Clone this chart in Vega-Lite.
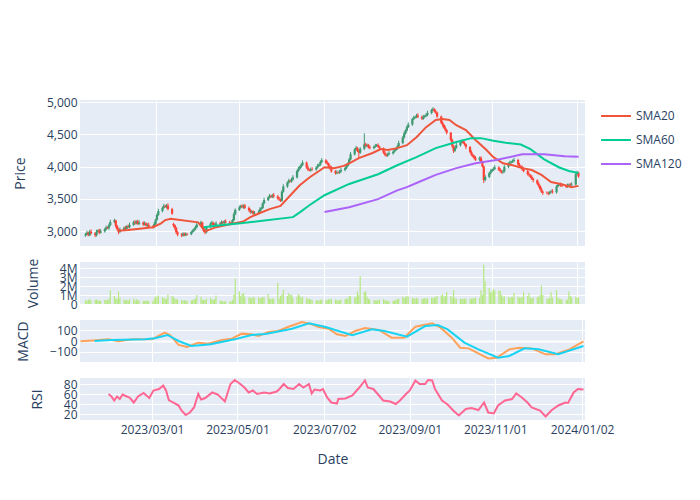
{
"$schema": "https://vega.github.io/schema/vega-lite/v6.json",
"padding": {"left": 13, "top": 96, "right": 5, "bottom": 5},
"spacing": 16,
"bounds": "flush",
"config": {
  "view": {"fill": "#E5ECF6", "stroke": null},
  "font": "Open Sans",
  "axis": {"gridColor": "#ffffff", "gridWidth": 1, "domain": false, "ticks": false, "labelColor": "#2a3f5f", "labelFontSize": 12, "labelFont": "Open Sans", "labelPadding": 3, "titleFont": "Open Sans", "titleFontSize": 14, "titleFontWeight": "normal", "titleColor": "#2a3f5f", "titlePadding": 19, "labelOverlap": false, "labelFlush": false},
  "legend": {"orient": "none", "legendX": 520, "legendY": 0, "symbolType": "stroke", "symbolStrokeWidth": 2, "symbolSize": 900, "labelFont": "Open Sans", "labelFontSize": 12, "labelColor": "#2a3f5f", "padding": 0}
},
"datasets": {
"ohlc": [
{"d":"2023-01-09","o":2930,"h":2970,"l":2910,"c":2950,"v":0.42},
{"d":"2023-01-10","o":2950,"h":3005,"l":2935,"c":2975,"v":0.38},
{"d":"2023-01-11","o":2975,"h":2990,"l":2920,"c":2935,"v":0.45},
{"d":"2023-01-12","o":2935,"h":3015,"l":2920,"c":2990,"v":0.55},
{"d":"2023-01-13","o":2990,"h":3025,"l":2945,"c":2965,"v":0.4},
{"d":"2023-01-16","o":2965,"h":2985,"l":2905,"c":2935,"v":0.47},
{"d":"2023-01-17","o":2935,"h":3020,"l":2915,"c":2990,"v":0.5},
{"d":"2023-01-18","o":2990,"h":3025,"l":2975,"c":3010,"v":0.43},
{"d":"2023-01-19","o":3010,"h":3035,"l":2950,"c":2975,"v":0.36},
{"d":"2023-01-20","o":2975,"h":3030,"l":2960,"c":2995,"v":0.39},
{"d":"2023-01-23","o":2995,"h":3050,"l":2975,"c":3030,"v":0.44},
{"d":"2023-01-24","o":3030,"h":3085,"l":3010,"c":3055,"v":0.48},
{"d":"2023-01-25","o":3055,"h":3070,"l":3030,"c":3045,"v":0.41},
{"d":"2023-01-26","o":3045,"h":3115,"l":3020,"c":3090,"v":0.6},
{"d":"2023-01-27","o":3090,"h":3175,"l":3075,"c":3140,"v":1.54},
{"d":"2023-01-30","o":3140,"h":3190,"l":3120,"c":3165,"v":0.9},
{"d":"2023-01-31","o":3165,"h":3175,"l":3050,"c":3080,"v":0.62},
{"d":"2023-02-01","o":3080,"h":3095,"l":3005,"c":3030,"v":0.55},
{"d":"2023-02-02","o":3030,"h":3045,"l":2950,"c":2985,"v":1.39},
{"d":"2023-02-03","o":2985,"h":3055,"l":2970,"c":3020,"v":0.7},
{"d":"2023-02-06","o":3020,"h":3070,"l":3000,"c":3050,"v":0.5},
{"d":"2023-02-07","o":3050,"h":3080,"l":3015,"c":3035,"v":0.42},
{"d":"2023-02-08","o":3035,"h":3090,"l":3020,"c":3075,"v":0.45},
{"d":"2023-02-09","o":3075,"h":3100,"l":3045,"c":3060,"v":0.35},
{"d":"2023-02-10","o":3060,"h":3130,"l":3040,"c":3095,"v":0.55},
{"d":"2023-02-13","o":3095,"h":3160,"l":3080,"c":3140,"v":0.62},
{"d":"2023-02-14","o":3140,"h":3170,"l":3100,"c":3120,"v":0.4},
{"d":"2023-02-15","o":3120,"h":3165,"l":3105,"c":3150,"v":0.52},
{"d":"2023-02-16","o":3150,"h":3175,"l":3095,"c":3110,"v":0.45},
{"d":"2023-02-17","o":3110,"h":3165,"l":3090,"c":3130,"v":0.38},
{"d":"2023-02-20","o":3130,"h":3150,"l":3080,"c":3100,"v":0.36},
{"d":"2023-02-21","o":3100,"h":3150,"l":3085,"c":3120,"v":0.33},
{"d":"2023-02-22","o":3120,"h":3135,"l":3070,"c":3085,"v":0.4},
{"d":"2023-02-23","o":3085,"h":3120,"l":3060,"c":3095,"v":0.35},
{"d":"2023-02-24","o":3095,"h":3130,"l":3050,"c":3070,"v":0.3},
{"d":"2023-02-27","o":3070,"h":3090,"l":3040,"c":3060,"v":0.32},
{"d":"2023-02-28","o":3060,"h":3140,"l":3045,"c":3110,"v":0.58},
{"d":"2023-03-01","o":3110,"h":3190,"l":3095,"c":3175,"v":0.85},
{"d":"2023-03-02","o":3175,"h":3275,"l":3160,"c":3250,"v":0.8},
{"d":"2023-03-03","o":3250,"h":3345,"l":3235,"c":3310,"v":0.95},
{"d":"2023-03-06","o":3310,"h":3380,"l":3290,"c":3360,"v":0.75},
{"d":"2023-03-07","o":3360,"h":3420,"l":3345,"c":3390,"v":0.7},
{"d":"2023-03-08","o":3390,"h":3405,"l":3360,"c":3375,"v":0.55},
{"d":"2023-03-09","o":3375,"h":3420,"l":3350,"c":3395,"v":0.6},
{"d":"2023-03-10","o":3395,"h":3430,"l":3320,"c":3340,"v":1.05},
{"d":"2023-03-13","o":3340,"h":3360,"l":3250,"c":3270,"v":0.9},
{"d":"2023-03-14","o":3110,"h":3130,"l":3060,"c":3090,"v":0.8},
{"d":"2023-03-15","o":3090,"h":3105,"l":3020,"c":3050,"v":0.6},
{"d":"2023-03-16","o":3050,"h":3065,"l":2955,"c":2980,"v":0.55},
{"d":"2023-03-17","o":2980,"h":3000,"l":2920,"c":2945,"v":0.5},
{"d":"2023-03-20","o":2945,"h":2970,"l":2905,"c":2930,"v":0.45},
{"d":"2023-03-21","o":2930,"h":2980,"l":2915,"c":2960,"v":0.38},
{"d":"2023-03-22","o":2960,"h":2975,"l":2920,"c":2935,"v":0.42},
{"d":"2023-03-23","o":2935,"h":2980,"l":2920,"c":2955,"v":0.4},
{"d":"2023-03-24","o":2955,"h":2970,"l":2930,"c":2950,"v":0.35},
{"d":"2023-03-27","o":2950,"h":3005,"l":2935,"c":2985,"v":0.43},
{"d":"2023-03-28","o":2985,"h":3025,"l":2970,"c":3005,"v":0.45},
{"d":"2023-03-29","o":3005,"h":3050,"l":2990,"c":3030,"v":0.5},
{"d":"2023-03-30","o":3030,"h":3085,"l":3015,"c":3060,"v":0.62},
{"d":"2023-03-31","o":3060,"h":3135,"l":3045,"c":3100,"v":1.0},
{"d":"2023-04-03","o":3100,"h":3160,"l":3085,"c":3135,"v":0.8},
{"d":"2023-04-04","o":3135,"h":3145,"l":3040,"c":3060,"v":0.5},
{"d":"2023-04-05","o":3060,"h":3075,"l":2980,"c":3000,"v":0.45},
{"d":"2023-04-06","o":3000,"h":3020,"l":2950,"c":2980,"v":0.48},
{"d":"2023-04-07","o":2980,"h":3080,"l":2965,"c":3065,"v":0.6},
{"d":"2023-04-10","o":3065,"h":3135,"l":3050,"c":3115,"v":0.7},
{"d":"2023-04-11","o":3115,"h":3160,"l":3100,"c":3130,"v":0.5},
{"d":"2023-04-12","o":3130,"h":3145,"l":3070,"c":3085,"v":0.45},
{"d":"2023-04-13","o":3085,"h":3120,"l":3065,"c":3095,"v":0.55},
{"d":"2023-04-14","o":3095,"h":3150,"l":3080,"c":3120,"v":0.95},
{"d":"2023-04-17","o":3120,"h":3140,"l":3090,"c":3110,"v":0.4},
{"d":"2023-04-18","o":3110,"h":3165,"l":3095,"c":3140,"v":0.35},
{"d":"2023-04-19","o":3140,"h":3155,"l":3110,"c":3125,"v":0.3},
{"d":"2023-04-20","o":3125,"h":3170,"l":3105,"c":3150,"v":0.32},
{"d":"2023-04-21","o":3150,"h":3180,"l":3115,"c":3135,"v":0.3},
{"d":"2023-04-24","o":3135,"h":3160,"l":3105,"c":3125,"v":0.32},
{"d":"2023-04-25","o":3125,"h":3145,"l":3090,"c":3115,"v":0.3},
{"d":"2023-04-26","o":3115,"h":3185,"l":3100,"c":3170,"v":0.45},
{"d":"2023-04-27","o":3170,"h":3290,"l":3155,"c":3260,"v":1.0},
{"d":"2023-04-28","o":3260,"h":3350,"l":3245,"c":3330,"v":2.85},
{"d":"2023-05-01","o":3330,"h":3395,"l":3310,"c":3365,"v":1.42},
{"d":"2023-05-02","o":3365,"h":3405,"l":3350,"c":3390,"v":0.9},
{"d":"2023-05-03","o":3390,"h":3415,"l":3355,"c":3370,"v":1.12},
{"d":"2023-05-04","o":3370,"h":3410,"l":3345,"c":3395,"v":1.24},
{"d":"2023-05-05","o":3395,"h":3420,"l":3340,"c":3360,"v":0.8},
{"d":"2023-05-08","o":3360,"h":3380,"l":3300,"c":3320,"v":0.75},
{"d":"2023-05-09","o":3320,"h":3345,"l":3270,"c":3290,"v":0.7},
{"d":"2023-05-10","o":3290,"h":3325,"l":3275,"c":3305,"v":0.65},
{"d":"2023-05-11","o":3305,"h":3320,"l":3250,"c":3270,"v":0.8},
{"d":"2023-05-12","o":3270,"h":3310,"l":3255,"c":3285,"v":0.7},
{"d":"2023-05-15","o":3285,"h":3320,"l":3265,"c":3300,"v":0.72},
{"d":"2023-05-16","o":3300,"h":3370,"l":3285,"c":3340,"v":0.68},
{"d":"2023-05-17","o":3340,"h":3375,"l":3320,"c":3355,"v":0.7},
{"d":"2023-05-18","o":3355,"h":3445,"l":3340,"c":3430,"v":0.75},
{"d":"2023-05-19","o":3430,"h":3515,"l":3415,"c":3480,"v":0.78},
{"d":"2023-05-22","o":3480,"h":3540,"l":3465,"c":3520,"v":1.16},
{"d":"2023-05-23","o":3520,"h":3575,"l":3505,"c":3545,"v":0.6},
{"d":"2023-05-24","o":3545,"h":3560,"l":3510,"c":3530,"v":0.55},
{"d":"2023-05-25","o":3530,"h":3575,"l":3510,"c":3555,"v":0.62},
{"d":"2023-05-26","o":3555,"h":3590,"l":3515,"c":3535,"v":0.58},
{"d":"2023-05-29","o":3535,"h":3560,"l":3485,"c":3505,"v":2.36},
{"d":"2023-05-30","o":3505,"h":3530,"l":3465,"c":3490,"v":0.6},
{"d":"2023-05-31","o":3490,"h":3505,"l":3450,"c":3470,"v":0.9},
{"d":"2023-06-01","o":3470,"h":3635,"l":3455,"c":3610,"v":1.05},
{"d":"2023-06-02","o":3610,"h":3725,"l":3595,"c":3690,"v":1.6},
{"d":"2023-06-05","o":3690,"h":3770,"l":3670,"c":3750,"v":0.9},
{"d":"2023-06-06","o":3750,"h":3810,"l":3735,"c":3780,"v":1.24},
{"d":"2023-06-07","o":3780,"h":3795,"l":3755,"c":3770,"v":1.0},
{"d":"2023-06-08","o":3770,"h":3825,"l":3750,"c":3800,"v":1.05},
{"d":"2023-06-09","o":3800,"h":3865,"l":3780,"c":3830,"v":0.7},
{"d":"2023-06-12","o":3830,"h":3950,"l":3815,"c":3930,"v":0.8},
{"d":"2023-06-13","o":3930,"h":3995,"l":3915,"c":3965,"v":1.1},
{"d":"2023-06-14","o":3965,"h":4010,"l":3950,"c":3995,"v":0.95},
{"d":"2023-06-15","o":3995,"h":4050,"l":3975,"c":4025,"v":0.7},
{"d":"2023-06-16","o":4025,"h":4095,"l":4010,"c":4060,"v":0.8},
{"d":"2023-06-19","o":4060,"h":4080,"l":3965,"c":3985,"v":0.65},
{"d":"2023-06-20","o":3985,"h":4015,"l":3930,"c":3950,"v":0.6},
{"d":"2023-06-21","o":3950,"h":3965,"l":3925,"c":3940,"v":0.55},
{"d":"2023-06-22","o":3940,"h":3985,"l":3920,"c":3960,"v":0.5},
{"d":"2023-06-23","o":3960,"h":3990,"l":3935,"c":3955,"v":0.45},
{"d":"2023-06-26","o":3955,"h":4005,"l":3935,"c":3985,"v":0.42},
{"d":"2023-06-27","o":3985,"h":4040,"l":3970,"c":4010,"v":0.4},
{"d":"2023-06-28","o":4010,"h":4045,"l":3995,"c":4030,"v":0.38},
{"d":"2023-06-29","o":4030,"h":4095,"l":4010,"c":4070,"v":0.45},
{"d":"2023-06-30","o":4070,"h":4130,"l":4055,"c":4095,"v":0.5},
{"d":"2023-07-03","o":4095,"h":4115,"l":4040,"c":4060,"v":0.48},
{"d":"2023-07-04","o":4060,"h":4090,"l":4025,"c":4045,"v":0.42},
{"d":"2023-07-05","o":4045,"h":4060,"l":3985,"c":4000,"v":0.55},
{"d":"2023-07-06","o":4000,"h":4025,"l":3950,"c":3975,"v":0.5},
{"d":"2023-07-07","o":3975,"h":4010,"l":3905,"c":3925,"v":0.6},
{"d":"2023-07-10","o":3925,"h":3945,"l":3875,"c":3895,"v":0.5},
{"d":"2023-07-11","o":3895,"h":3940,"l":3880,"c":3910,"v":0.45},
{"d":"2023-07-12","o":3910,"h":3925,"l":3890,"c":3905,"v":0.4},
{"d":"2023-07-13","o":3905,"h":3950,"l":3885,"c":3925,"v":0.42},
{"d":"2023-07-14","o":3925,"h":3980,"l":3905,"c":3945,"v":0.5},
{"d":"2023-07-17","o":3945,"h":3995,"l":3925,"c":3975,"v":0.55},
{"d":"2023-07-18","o":3975,"h":4040,"l":3960,"c":4010,"v":0.6},
{"d":"2023-07-19","o":4010,"h":4065,"l":3995,"c":4050,"v":0.58},
{"d":"2023-07-20","o":4050,"h":4135,"l":4030,"c":4110,"v":0.9},
{"d":"2023-07-21","o":4110,"h":4225,"l":4095,"c":4190,"v":0.85},
{"d":"2023-07-24","o":4190,"h":4285,"l":4170,"c":4265,"v":0.75},
{"d":"2023-07-25","o":4265,"h":4320,"l":4250,"c":4290,"v":0.8},
{"d":"2023-07-26","o":4290,"h":4305,"l":4225,"c":4240,"v":1.42},
{"d":"2023-07-27","o":4240,"h":4265,"l":4120,"c":4215,"v":1.0},
{"d":"2023-07-28","o":4215,"h":4300,"l":4195,"c":4275,"v":3.1},
{"d":"2023-07-31","o":4275,"h":4515,"l":4255,"c":4345,"v":1.35},
{"d":"2023-08-01","o":4345,"h":4370,"l":4300,"c":4320,"v":1.42},
{"d":"2023-08-02","o":4320,"h":4355,"l":4295,"c":4335,"v":0.8},
{"d":"2023-08-03","o":4335,"h":4350,"l":4280,"c":4300,"v":0.6},
{"d":"2023-08-04","o":4300,"h":4330,"l":4265,"c":4285,"v":0.5},
{"d":"2023-08-07","o":4285,"h":4325,"l":4265,"c":4305,"v":0.45},
{"d":"2023-08-08","o":4305,"h":4350,"l":4290,"c":4320,"v":0.42},
{"d":"2023-08-09","o":4320,"h":4350,"l":4305,"c":4335,"v":0.4},
{"d":"2023-08-10","o":4335,"h":4360,"l":4290,"c":4310,"v":0.45},
{"d":"2023-08-11","o":4310,"h":4320,"l":4250,"c":4285,"v":0.5},
{"d":"2023-08-14","o":4285,"h":4295,"l":4195,"c":4215,"v":0.55},
{"d":"2023-08-15","o":4215,"h":4240,"l":4160,"c":4185,"v":0.42},
{"d":"2023-08-16","o":4185,"h":4200,"l":4150,"c":4170,"v":0.38},
{"d":"2023-08-17","o":4170,"h":4215,"l":4150,"c":4190,"v":0.35},
{"d":"2023-08-18","o":4190,"h":4240,"l":4175,"c":4205,"v":0.3},
{"d":"2023-08-21","o":4205,"h":4250,"l":4185,"c":4230,"v":0.35},
{"d":"2023-08-22","o":4230,"h":4285,"l":4215,"c":4255,"v":0.4},
{"d":"2023-08-23","o":4255,"h":4290,"l":4240,"c":4275,"v":0.45},
{"d":"2023-08-24","o":4275,"h":4335,"l":4255,"c":4310,"v":0.6},
{"d":"2023-08-25","o":4310,"h":4400,"l":4295,"c":4365,"v":0.55},
{"d":"2023-08-28","o":4365,"h":4470,"l":4345,"c":4450,"v":0.8},
{"d":"2023-08-29","o":4450,"h":4540,"l":4435,"c":4510,"v":0.7},
{"d":"2023-08-30","o":4510,"h":4575,"l":4495,"c":4560,"v":0.75},
{"d":"2023-08-31","o":4560,"h":4635,"l":4540,"c":4610,"v":0.9},
{"d":"2023-09-01","o":4610,"h":4685,"l":4595,"c":4650,"v":0.85},
{"d":"2023-09-04","o":4650,"h":4755,"l":4630,"c":4735,"v":0.7},
{"d":"2023-09-05","o":4735,"h":4785,"l":4720,"c":4755,"v":0.65},
{"d":"2023-09-06","o":4755,"h":4785,"l":4740,"c":4770,"v":0.6},
{"d":"2023-09-07","o":4770,"h":4815,"l":4750,"c":4790,"v":0.7},
{"d":"2023-09-08","o":4790,"h":4825,"l":4750,"c":4770,"v":0.62},
{"d":"2023-09-11","o":4770,"h":4790,"l":4720,"c":4740,"v":0.6},
{"d":"2023-09-12","o":4740,"h":4800,"l":4725,"c":4770,"v":0.62},
{"d":"2023-09-13","o":4770,"h":4800,"l":4755,"c":4785,"v":0.66},
{"d":"2023-09-14","o":4785,"h":4825,"l":4765,"c":4800,"v":0.6},
{"d":"2023-09-15","o":4800,"h":4865,"l":4780,"c":4830,"v":0.65},
{"d":"2023-09-18","o":4830,"h":4895,"l":4810,"c":4875,"v":0.7},
{"d":"2023-09-19","o":4875,"h":4920,"l":4860,"c":4890,"v":0.68},
{"d":"2023-09-20","o":4890,"h":4905,"l":4840,"c":4855,"v":0.72},
{"d":"2023-09-21","o":4855,"h":4880,"l":4815,"c":4835,"v":0.75},
{"d":"2023-09-22","o":4835,"h":4850,"l":4755,"c":4775,"v":0.9},
{"d":"2023-09-25","o":4775,"h":4790,"l":4660,"c":4680,"v":0.95},
{"d":"2023-09-26","o":4680,"h":4700,"l":4620,"c":4645,"v":1.05},
{"d":"2023-09-27","o":4645,"h":4660,"l":4585,"c":4600,"v":0.8},
{"d":"2023-09-28","o":4600,"h":4625,"l":4545,"c":4565,"v":0.9},
{"d":"2023-09-29","o":4565,"h":4580,"l":4495,"c":4525,"v":1.35},
{"d":"2023-10-02","o":4525,"h":4535,"l":4390,"c":4410,"v":0.9},
{"d":"2023-10-03","o":4410,"h":4430,"l":4290,"c":4320,"v":0.7},
{"d":"2023-10-04","o":4320,"h":4335,"l":4210,"c":4245,"v":1.54},
{"d":"2023-10-05","o":4245,"h":4310,"l":4225,"c":4290,"v":0.65},
{"d":"2023-10-06","o":4290,"h":4365,"l":4275,"c":4330,"v":0.6},
{"d":"2023-10-09","o":4330,"h":4395,"l":4310,"c":4375,"v":0.6},
{"d":"2023-10-10","o":4375,"h":4420,"l":4360,"c":4390,"v":0.55},
{"d":"2023-10-11","o":4390,"h":4405,"l":4350,"c":4365,"v":0.58},
{"d":"2023-10-12","o":4365,"h":4390,"l":4325,"c":4345,"v":0.6},
{"d":"2023-10-13","o":4345,"h":4355,"l":4270,"c":4305,"v":0.62},
{"d":"2023-10-16","o":4305,"h":4315,"l":4205,"c":4225,"v":0.6},
{"d":"2023-10-17","o":4225,"h":4250,"l":4160,"c":4185,"v":0.62},
{"d":"2023-10-18","o":4185,"h":4200,"l":4140,"c":4160,"v":0.65},
{"d":"2023-10-19","o":4160,"h":4180,"l":4110,"c":4130,"v":0.68},
{"d":"2023-10-20","o":4130,"h":4160,"l":4085,"c":4105,"v":0.72},
{"d":"2023-10-23","o":4105,"h":4155,"l":4085,"c":4135,"v":0.7},
{"d":"2023-10-24","o":4135,"h":4160,"l":4055,"c":4075,"v":1.54},
{"d":"2023-10-25","o":4075,"h":4090,"l":3985,"c":4000,"v":1.0},
{"d":"2023-10-26","o":4000,"h":4015,"l":3745,"c":3790,"v":4.4},
{"d":"2023-10-27","o":3790,"h":3870,"l":3770,"c":3840,"v":2.55},
{"d":"2023-10-30","o":3840,"h":3915,"l":3820,"c":3895,"v":1.8},
{"d":"2023-10-31","o":3895,"h":3955,"l":3880,"c":3925,"v":1.3},
{"d":"2023-11-01","o":3925,"h":3965,"l":3910,"c":3950,"v":1.4},
{"d":"2023-11-02","o":3950,"h":3990,"l":3930,"c":3965,"v":1.68},
{"d":"2023-11-03","o":3965,"h":4020,"l":3945,"c":3985,"v":1.5},
{"d":"2023-11-06","o":3985,"h":4005,"l":3930,"c":3950,"v":1.5},
{"d":"2023-11-07","o":3950,"h":3975,"l":3905,"c":3930,"v":1.45},
{"d":"2023-11-08","o":3930,"h":3945,"l":3890,"c":3910,"v":1.0},
{"d":"2023-11-09","o":3910,"h":3950,"l":3890,"c":3925,"v":0.8},
{"d":"2023-11-10","o":3925,"h":4020,"l":3905,"c":3995,"v":0.85},
{"d":"2023-11-13","o":3995,"h":4065,"l":3975,"c":4045,"v":0.75},
{"d":"2023-11-14","o":4045,"h":4090,"l":4030,"c":4060,"v":0.7},
{"d":"2023-11-15","o":4060,"h":4090,"l":4045,"c":4075,"v":0.78},
{"d":"2023-11-16","o":4075,"h":4110,"l":4055,"c":4085,"v":0.75},
{"d":"2023-11-17","o":4085,"h":4135,"l":4065,"c":4100,"v":1.24},
{"d":"2023-11-20","o":4100,"h":4120,"l":4010,"c":4030,"v":0.8},
{"d":"2023-11-21","o":4030,"h":4055,"l":3980,"c":4005,"v":0.7},
{"d":"2023-11-22","o":4005,"h":4020,"l":3970,"c":3990,"v":0.72},
{"d":"2023-11-23","o":3990,"h":4015,"l":3935,"c":3955,"v":0.75},
{"d":"2023-11-24","o":3955,"h":3990,"l":3910,"c":3930,"v":1.35},
{"d":"2023-11-27","o":3930,"h":3950,"l":3860,"c":3880,"v":0.9},
{"d":"2023-11-28","o":3880,"h":3905,"l":3840,"c":3865,"v":1.24},
{"d":"2023-11-29","o":3865,"h":3880,"l":3820,"c":3840,"v":0.7},
{"d":"2023-11-30","o":3840,"h":3865,"l":3790,"c":3810,"v":0.68},
{"d":"2023-12-01","o":3810,"h":3825,"l":3755,"c":3790,"v":0.72},
{"d":"2023-12-04","o":3790,"h":3800,"l":3715,"c":3735,"v":0.75},
{"d":"2023-12-05","o":3735,"h":3760,"l":3675,"c":3700,"v":0.8},
{"d":"2023-12-06","o":3700,"h":3715,"l":3630,"c":3650,"v":1.0},
{"d":"2023-12-07","o":3650,"h":3675,"l":3590,"c":3610,"v":2.06},
{"d":"2023-12-08","o":3610,"h":3625,"l":3560,"c":3595,"v":1.0},
{"d":"2023-12-11","o":3595,"h":3615,"l":3570,"c":3590,"v":0.6},
{"d":"2023-12-12","o":3590,"h":3610,"l":3555,"c":3580,"v":0.62},
{"d":"2023-12-13","o":3580,"h":3620,"l":3565,"c":3605,"v":0.68},
{"d":"2023-12-14","o":3605,"h":3640,"l":3585,"c":3615,"v":1.35},
{"d":"2023-12-15","o":3615,"h":3650,"l":3580,"c":3600,"v":0.7},
{"d":"2023-12-18","o":3600,"h":3710,"l":3580,"c":3690,"v":1.56},
{"d":"2023-12-19","o":3690,"h":3745,"l":3675,"c":3715,"v":0.7},
{"d":"2023-12-20","o":3715,"h":3740,"l":3700,"c":3725,"v":0.6},
{"d":"2023-12-21","o":3725,"h":3750,"l":3685,"c":3705,"v":0.55},
{"d":"2023-12-22","o":3705,"h":3735,"l":3680,"c":3700,"v":0.5},
{"d":"2023-12-25","o":3700,"h":3720,"l":3665,"c":3685,"v":0.45},
{"d":"2023-12-26","o":3685,"h":3735,"l":3670,"c":3705,"v":0.5},
{"d":"2023-12-27","o":3705,"h":3735,"l":3690,"c":3720,"v":1.39},
{"d":"2023-12-28","o":3720,"h":3745,"l":3690,"c":3710,"v":0.9},
{"d":"2023-12-29","o":3710,"h":3755,"l":3700,"c":3720,"v":0.75},
{"d":"2024-01-01","o":3720,"h":3905,"l":3705,"c":3880,"v":0.8},
{"d":"2024-01-02","o":3880,"h":3935,"l":3865,"c":3905,"v":0.7},
{"d":"2024-01-03","o":3905,"h":3920,"l":3825,"c":3845,"v":0.72}
],
"sma": [
{"d":"2023-02-02","s":"SMA20","v":3005},{"d":"2023-02-09","s":"SMA20","v":3015},{"d":"2023-02-27","s":"SMA20","v":3060},{"d":"2023-03-05","s":"SMA20","v":3120},{"d":"2023-03-08","s":"SMA20","v":3170},{"d":"2023-03-12","s":"SMA20","v":3190},{"d":"2023-04-01","s":"SMA20","v":3135},{"d":"2023-04-06","s":"SMA20","v":2995},{"d":"2023-04-14","s":"SMA20","v":3060},{"d":"2023-04-25","s":"SMA20","v":3110},{"d":"2023-05-04","s":"SMA20","v":3150},{"d":"2023-05-09","s":"SMA20","v":3215},{"d":"2023-05-16","s":"SMA20","v":3280},{"d":"2023-05-23","s":"SMA20","v":3340},{"d":"2023-05-31","s":"SMA20","v":3390},{"d":"2023-06-07","s":"SMA20","v":3550},{"d":"2023-06-14","s":"SMA20","v":3710},{"d":"2023-06-21","s":"SMA20","v":3830},{"d":"2023-06-28","s":"SMA20","v":3930},{"d":"2023-07-02","s":"SMA20","v":3990},{"d":"2023-07-09","s":"SMA20","v":3975},{"d":"2023-07-16","s":"SMA20","v":4010},{"d":"2023-07-20","s":"SMA20","v":4050},{"d":"2023-07-27","s":"SMA20","v":4130},{"d":"2023-08-06","s":"SMA20","v":4210},{"d":"2023-08-12","s":"SMA20","v":4270},{"d":"2023-08-17","s":"SMA20","v":4255},{"d":"2023-08-24","s":"SMA20","v":4285},{"d":"2023-08-31","s":"SMA20","v":4330},{"d":"2023-09-07","s":"SMA20","v":4455},{"d":"2023-09-14","s":"SMA20","v":4610},{"d":"2023-09-21","s":"SMA20","v":4720},{"d":"2023-09-26","s":"SMA20","v":4735},{"d":"2023-10-01","s":"SMA20","v":4720},{"d":"2023-10-06","s":"SMA20","v":4640},{"d":"2023-10-13","s":"SMA20","v":4565},{"d":"2023-10-20","s":"SMA20","v":4410},{"d":"2023-10-28","s":"SMA20","v":4255},{"d":"2023-11-02","s":"SMA20","v":4145},{"d":"2023-11-09","s":"SMA20","v":4050},{"d":"2023-11-16","s":"SMA20","v":4020},{"d":"2023-11-23","s":"SMA20","v":3975},{"d":"2023-11-30","s":"SMA20","v":3945},{"d":"2023-12-07","s":"SMA20","v":3870},{"d":"2023-12-14","s":"SMA20","v":3760},{"d":"2023-12-21","s":"SMA20","v":3730},{"d":"2023-12-29","s":"SMA20","v":3680},{"d":"2024-01-03","s":"SMA20","v":3700},
{"d":"2023-04-05","s":"SMA60","v":3060},{"d":"2023-04-17","s":"SMA60","v":3090},{"d":"2023-05-02","s":"SMA60","v":3120},{"d":"2023-06-09","s":"SMA60","v":3215},{"d":"2023-06-14","s":"SMA60","v":3290},{"d":"2023-06-21","s":"SMA60","v":3400},{"d":"2023-07-02","s":"SMA60","v":3555},{"d":"2023-07-20","s":"SMA60","v":3730},{"d":"2023-08-10","s":"SMA60","v":3880},{"d":"2023-08-24","s":"SMA60","v":4020},{"d":"2023-09-07","s":"SMA60","v":4145},{"d":"2023-09-21","s":"SMA60","v":4285},{"d":"2023-10-06","s":"SMA60","v":4380},{"d":"2023-10-17","s":"SMA60","v":4440},{"d":"2023-10-24","s":"SMA60","v":4440},{"d":"2023-11-02","s":"SMA60","v":4400},{"d":"2023-11-11","s":"SMA60","v":4370},{"d":"2023-11-22","s":"SMA60","v":4340},{"d":"2023-11-29","s":"SMA60","v":4270},{"d":"2023-12-09","s":"SMA60","v":4110},{"d":"2023-12-20","s":"SMA60","v":3985},{"d":"2023-12-27","s":"SMA60","v":3930},{"d":"2024-01-03","s":"SMA60","v":3900},
{"d":"2023-07-02","s":"SMA120","v":3295},{"d":"2023-07-20","s":"SMA120","v":3370},{"d":"2023-08-10","s":"SMA120","v":3495},{"d":"2023-08-24","s":"SMA120","v":3630},{"d":"2023-08-31","s":"SMA120","v":3680},{"d":"2023-09-07","s":"SMA120","v":3745},{"d":"2023-09-21","s":"SMA120","v":3870},{"d":"2023-10-06","s":"SMA120","v":3975},{"d":"2023-10-20","s":"SMA120","v":4050},{"d":"2023-11-04","s":"SMA120","v":4100},{"d":"2023-11-23","s":"SMA120","v":4190},{"d":"2023-12-09","s":"SMA120","v":4190},{"d":"2023-12-24","s":"SMA120","v":4160},{"d":"2024-01-03","s":"SMA120","v":4150}
],
"macd": [
{"d":"2023-01-09","v":-3},{"d":"2023-01-18","v":5},{"d":"2023-01-29","v":15},{"d":"2023-02-05","v":-3},{"d":"2023-02-15","v":15},{"d":"2023-03-01","v":15},{"d":"2023-03-10","v":76},{"d":"2023-03-14","v":52},{"d":"2023-03-20","v":-36},{"d":"2023-03-26","v":-55},{"d":"2023-04-03","v":-15},{"d":"2023-04-10","v":-24},{"d":"2023-04-20","v":9},{"d":"2023-04-27","v":21},{"d":"2023-05-04","v":67},{"d":"2023-05-11","v":61},{"d":"2023-05-16","v":45},{"d":"2023-05-23","v":82},{"d":"2023-05-30","v":91},{"d":"2023-06-06","v":127},{"d":"2023-06-16","v":173},{"d":"2023-06-23","v":152},{"d":"2023-06-28","v":127},{"d":"2023-07-05","v":112},{"d":"2023-07-11","v":61},{"d":"2023-07-17","v":45},{"d":"2023-07-24","v":91},{"d":"2023-07-31","v":118},{"d":"2023-08-10","v":100},{"d":"2023-08-19","v":30},{"d":"2023-08-28","v":30},{"d":"2023-09-05","v":130},{"d":"2023-09-17","v":161},{"d":"2023-09-23","v":121},{"d":"2023-10-01","v":30},{"d":"2023-10-07","v":-61},{"d":"2023-10-13","v":-67},{"d":"2023-10-20","v":-112},{"d":"2023-10-27","v":-158},{"d":"2023-11-02","v":-152},{"d":"2023-11-11","v":-76},{"d":"2023-11-18","v":-61},{"d":"2023-11-27","v":-67},{"d":"2023-12-07","v":-121},{"d":"2023-12-14","v":-121},{"d":"2023-12-24","v":-76},{"d":"2024-01-03","v":-3}
],
"signal": [
{"d":"2023-01-19","v":0},{"d":"2023-01-31","v":9},{"d":"2023-02-24","v":15},{"d":"2023-03-03","v":25},{"d":"2023-03-12","v":55},{"d":"2023-03-20","v":0},{"d":"2023-03-29","v":-45},{"d":"2023-04-12","v":-30},{"d":"2023-04-29","v":15},{"d":"2023-05-11","v":55},{"d":"2023-05-21","v":64},{"d":"2023-06-09","v":112},{"d":"2023-06-21","v":161},{"d":"2023-07-03","v":127},{"d":"2023-07-12","v":91},{"d":"2023-07-22","v":52},{"d":"2023-08-05","v":106},{"d":"2023-08-14","v":91},{"d":"2023-08-30","v":39},{"d":"2023-09-12","v":136},{"d":"2023-09-21","v":145},{"d":"2023-09-28","v":106},{"d":"2023-10-10","v":-15},{"d":"2023-10-20","v":-76},{"d":"2023-11-03","v":-152},{"d":"2023-11-11","v":-136},{"d":"2023-11-22","v":-67},{"d":"2023-12-02","v":-76},{"d":"2023-12-16","v":-121},{"d":"2024-01-03","v":-45}
],
"rsi": [
{"d":"2023-01-29","v":60},{"d":"2023-01-31","v":55},{"d":"2023-02-02","v":47},{"d":"2023-02-04","v":55},{"d":"2023-02-06","v":50},{"d":"2023-02-08","v":59},{"d":"2023-02-11","v":55},{"d":"2023-02-13","v":53},{"d":"2023-02-16","v":43},{"d":"2023-02-19","v":55},{"d":"2023-02-23","v":62},{"d":"2023-02-27","v":52},{"d":"2023-03-02","v":67},{"d":"2023-03-06","v":70},{"d":"2023-03-09","v":77},{"d":"2023-03-11","v":67},{"d":"2023-03-13","v":48},{"d":"2023-03-16","v":43},{"d":"2023-03-20","v":37},{"d":"2023-03-22","v":27},{"d":"2023-03-25","v":18},{"d":"2023-03-28","v":23},{"d":"2023-03-31","v":33},{"d":"2023-04-03","v":60},{"d":"2023-04-05","v":49},{"d":"2023-04-08","v":52},{"d":"2023-04-13","v":63},{"d":"2023-04-17","v":59},{"d":"2023-04-22","v":45},{"d":"2023-04-26","v":80},{"d":"2023-04-29","v":88},{"d":"2023-05-03","v":80},{"d":"2023-05-06","v":73},{"d":"2023-05-09","v":63},{"d":"2023-05-12","v":67},{"d":"2023-05-15","v":60},{"d":"2023-05-20","v":63},{"d":"2023-05-24","v":61},{"d":"2023-05-29","v":65},{"d":"2023-05-31","v":70},{"d":"2023-06-03","v":80},{"d":"2023-06-06","v":72},{"d":"2023-06-10","v":70},{"d":"2023-06-14","v":80},{"d":"2023-06-17","v":73},{"d":"2023-06-21","v":80},{"d":"2023-06-23","v":61},{"d":"2023-06-25","v":69},{"d":"2023-06-29","v":67},{"d":"2023-07-01","v":70},{"d":"2023-07-04","v":53},{"d":"2023-07-07","v":43},{"d":"2023-07-11","v":41},{"d":"2023-07-12","v":50},{"d":"2023-07-17","v":51},{"d":"2023-07-22","v":57},{"d":"2023-07-27","v":73},{"d":"2023-07-31","v":87},{"d":"2023-08-02","v":73},{"d":"2023-08-06","v":70},{"d":"2023-08-10","v":57},{"d":"2023-08-13","v":47},{"d":"2023-08-18","v":45},{"d":"2023-08-22","v":40},{"d":"2023-08-25","v":47},{"d":"2023-08-29","v":59},{"d":"2023-09-01","v":67},{"d":"2023-09-05","v":87},{"d":"2023-09-08","v":80},{"d":"2023-09-12","v":80},{"d":"2023-09-14","v":88},{"d":"2023-09-17","v":87},{"d":"2023-09-19","v":70},{"d":"2023-09-24","v":47},{"d":"2023-09-28","v":39},{"d":"2023-10-02","v":27},{"d":"2023-10-06","v":17},{"d":"2023-10-11","v":30},{"d":"2023-10-15","v":32},{"d":"2023-10-20","v":28},{"d":"2023-10-24","v":43},{"d":"2023-10-27","v":23},{"d":"2023-10-31","v":21},{"d":"2023-11-03","v":37},{"d":"2023-11-08","v":47},{"d":"2023-11-13","v":50},{"d":"2023-11-16","v":61},{"d":"2023-11-20","v":53},{"d":"2023-11-24","v":43},{"d":"2023-11-27","v":33},{"d":"2023-12-03","v":27},{"d":"2023-12-07","v":15},{"d":"2023-12-11","v":27},{"d":"2023-12-16","v":37},{"d":"2023-12-21","v":43},{"d":"2023-12-23","v":42},{"d":"2023-12-27","v":63},{"d":"2023-12-30","v":70},{"d":"2024-01-03","v":69}
]
},
"vconcat": [
{
  "width": 505, "height": 146,
  "layer": [
    {"data": {"name": "ohlc"}, "mark": {"type": "rule", "strokeWidth": 1},
     "encoding": {
       "x": {"field": "d", "type": "temporal", "title": null,
             "scale": {"type": "utc", "nice": false, "domain": [{"year":2023,"month":1,"date":8,"hours":14,"utc":true},{"year":2024,"month":1,"date":4,"hours":2,"utc":true}]},
             "axis": {"labels": false, "grid": true, "values": [{"year":2023,"month":3,"date":1,"utc":true},{"year":2023,"month":5,"date":1,"utc":true},{"year":2023,"month":7,"date":2,"utc":true},{"year":2023,"month":9,"date":1,"utc":true},{"year":2023,"month":11,"date":1,"utc":true},{"year":2024,"month":1,"date":2,"utc":true}]}},
       "y": {"field": "l", "type": "quantitative", "title": "Price",
             "scale": {"domain": [2768, 5031], "nice": false, "zero": false},
             "axis": {"values": [3000, 3500, 4000, 4500, 5000], "format": ",.0f"}},
       "y2": {"field": "h"},
       "color": {"condition": {"test": "datum.c >= datum.o", "value": "#3D9970"}, "value": "#FF4136"}
     }},
    {"data": {"name": "ohlc"}, "mark": {"type": "bar", "size": 2.2},
     "encoding": {
       "x": {"field": "d", "type": "temporal", "title": null},
       "y": {"field": "o", "type": "quantitative", "title": "Price", "axis": {"values": [3000, 3500, 4000, 4500, 5000], "format": ",.0f"}},
       "y2": {"field": "c"},
       "color": {"condition": {"test": "datum.c >= datum.o", "value": "#3D9970"}, "value": "#FF4136"}
     }},
    {"data": {"name": "sma"}, "mark": {"type": "line", "strokeWidth": 2},
     "encoding": {
       "x": {"field": "d", "type": "temporal", "title": null},
       "y": {"field": "v", "type": "quantitative", "title": "Price", "axis": {"values": [3000, 3500, 4000, 4500, 5000], "format": ",.0f"}},
       "color": {"field": "s", "type": "nominal", "title": null,
                 "scale": {"domain": ["SMA20", "SMA60", "SMA120"], "range": ["#EF553B", "#00CC96", "#AB63FA"]},
                 "legend": {"title": null}}
     }}
  ]
},
{
  "width": 505, "height": 42,
  "data": {"name": "ohlc"},
  "mark": {"type": "bar", "size": 1.2, "color": "#B6E880"},
  "encoding": {
    "x": {"field": "d", "type": "temporal", "title": null,
          "scale": {"type": "utc", "nice": false, "domain": [{"year":2023,"month":1,"date":8,"hours":14,"utc":true},{"year":2024,"month":1,"date":4,"hours":2,"utc":true}]},
          "axis": {"labels": false, "grid": true, "values": [{"year":2023,"month":3,"date":1,"utc":true},{"year":2023,"month":5,"date":1,"utc":true},{"year":2023,"month":7,"date":2,"utc":true},{"year":2023,"month":9,"date":1,"utc":true},{"year":2023,"month":11,"date":1,"utc":true},{"year":2024,"month":1,"date":2,"utc":true}]}},
    "y": {"field": "v", "type": "quantitative", "title": "Volume",
          "scale": {"domain": [0, 4.7], "nice": false},
          "axis": {"values": [0, 1, 2, 3, 4], "labelExpr": "datum.value === 0 ? '0' : datum.value + 'M'"}}
  }
},
{
  "width": 505, "height": 42,
  "layer": [
    {"data": {"name": "macd"}, "mark": {"type": "line", "strokeWidth": 2, "color": "#FFA15A"},
     "encoding": {
       "x": {"field": "d", "type": "temporal", "title": null,
             "scale": {"type": "utc", "nice": false, "domain": [{"year":2023,"month":1,"date":8,"hours":14,"utc":true},{"year":2024,"month":1,"date":4,"hours":2,"utc":true}]},
             "axis": {"labels": false, "grid": true, "values": [{"year":2023,"month":3,"date":1,"utc":true},{"year":2023,"month":5,"date":1,"utc":true},{"year":2023,"month":7,"date":2,"utc":true},{"year":2023,"month":9,"date":1,"utc":true},{"year":2023,"month":11,"date":1,"utc":true},{"year":2024,"month":1,"date":2,"utc":true}]}},
       "y": {"field": "v", "type": "quantitative", "title": "MACD",
             "scale": {"domain": [-191, 191], "nice": false},
             "axis": {"values": [-100, 0, 100], "gridWidth": {"condition": {"test": "datum.value === 0", "value": 2}, "value": 1}}}
     }},
    {"data": {"name": "signal"}, "mark": {"type": "line", "strokeWidth": 2, "color": "#19D3F3"},
     "encoding": {
       "x": {"field": "d", "type": "temporal", "title": null},
       "y": {"field": "v", "type": "quantitative", "title": "MACD", "axis": {"values": [-100, 0, 100], "gridWidth": {"condition": {"test": "datum.value === 0", "value": 2}, "value": 1}}}
     }}
  ]
},
{
  "width": 505, "height": 42,
  "data": {"name": "rsi"},
  "mark": {"type": "line", "strokeWidth": 2, "color": "#FF6692"},
  "encoding": {
    "x": {"field": "d", "type": "temporal", "title": "Date",
          "scale": {"type": "utc", "nice": false, "domain": [{"year":2023,"month":1,"date":8,"hours":14,"utc":true},{"year":2024,"month":1,"date":4,"hours":2,"utc":true}]},
          "axis": {"grid": true, "format": "%Y/%m/%d", "labelPadding": 4, "titlePadding": 17, "values": [{"year":2023,"month":3,"date":1,"utc":true},{"year":2023,"month":5,"date":1,"utc":true},{"year":2023,"month":7,"date":2,"utc":true},{"year":2023,"month":9,"date":1,"utc":true},{"year":2023,"month":11,"date":1,"utc":true},{"year":2024,"month":1,"date":2,"utc":true}]}},
    "y": {"field": "v", "type": "quantitative", "title": "RSI",
          "scale": {"domain": [8, 92], "nice": false},
          "axis": {"values": [20, 40, 60, 80]}}
  }
}
]
}
